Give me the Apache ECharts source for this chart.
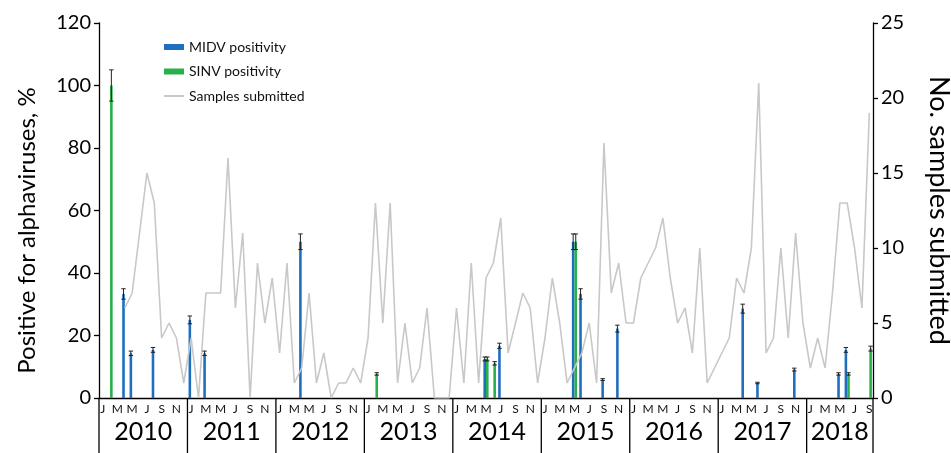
<!DOCTYPE html>
<html>
<head>
<meta charset="utf-8">
<title>Alphavirus positivity and samples submitted, 2010–2018</title>
<script src="https://cdn.jsdelivr.net/npm/echarts@6/dist/echarts.min.js"></script>
<style>
  html, body { margin: 0; padding: 0; background: #fff; }
  #chart { width: 951px; height: 453px; }
</style>
</head>
<body>
<div id="chart"></div>
<script>
// ---- data -------------------------------------------------------------
const years = ['2010', '2011', '2012', '2013', '2014', '2015', '2016', '2017', '2018'];
const monthsInYear = [12, 12, 12, 12, 12, 12, 12, 12, 9];
const monthLetters = ['J', 'F', 'M', 'A', 'M', 'J', 'J', 'A', 'S', 'O', 'N', 'D'];

// Percentage of positive samples per month (only months with positives)
const midvPositivity = [
  ['2010-04', 33.3], ['2010-05', 14.3], ['2010-08', 15.4],
  ['2011-01', 25.0], ['2011-03', 14.3],
  ['2012-04', 50.0],
  ['2014-05', 12.5], ['2014-07', 16.7],
  ['2015-05', 50.0], ['2015-06', 33.3], ['2015-09', 5.9], ['2015-11', 22.2],
  ['2017-04', 28.6], ['2017-06', 4.8], ['2017-11', 9.1],
  ['2018-05', 7.7], ['2018-06', 15.4]
];
const sinvPositivity = [
  ['2010-02', 100.0],
  ['2013-02', 7.7],
  ['2014-05', 12.5], ['2014-06', 11.1],
  ['2015-05', 50.0],
  ['2018-06', 7.7], ['2018-09', 15.8]
];

// Number of samples submitted each month, Jan 2010 – Sep 2018
const samplesSubmitted = [
  null, null, null, 6, 7, 11, 15, 13, 4, 5, 4, 1,      // 2010
  4, 0, 7, 7, 7, 16, 6, 11, 0, 9, 5, 8,                 // 2011
  3, 9, 1, 2, 7, 1, 3, 0, 1, 1, 2, 1,                   // 2012
  4, 13, 5, 13, 1, 5, 1, 2, 6, 0, 0, 0,                 // 2013
  6, 1, 9, 1, 8, 9, 12, 3, 5, 7, 6, 1,                  // 2014
  4, 8, 5, 1, 2, 3, 5, 1, 17, 7, 9, 5,                  // 2015
  5, 8, 9, 10, 12, 8, 5, 6, 3, 10, 1, 2,                // 2016
  3, 4, 8, 7, 10, 21, 3, 4, 10, 4, 11, 5,               // 2017
  2, 4, 2, 7, 13, 13, 10, 6, 19                         // 2018
];

// Error bars are a fixed percentage of each bar's value
const ERROR_BAR_PERCENT = 5;

const leftTicks = { min: 0, max: 120, interval: 20 };
const rightTicks = { min: 0, max: 25, interval: 5 };

// ---- derived tables ---------------------------------------------------
const categories = [];
years.forEach((y, yi) => {
  for (let m = 0; m < monthsInYear[yi]; m++) {
    categories.push(y + '-' + String(m + 1).padStart(2, '0'));
  }
});
const toSeries = pairs => {
  const lookup = Object.fromEntries(pairs);
  return categories.map(c => (c in lookup ? lookup[c] : null));
};
const midvData = toSeries(midvPositivity);
const sinvData = toSeries(sinvPositivity);
const errorPoints = pairs => pairs.map(([c, v]) => [categories.indexOf(c), v]);

const yearSpans = [];
let startIdx = 0;
years.forEach((y, yi) => {
  yearSpans.push([startIdx, startIdx + monthsInYear[yi]]);
  startIdx += monthsInYear[yi];
});

// ---- styling ----------------------------------------------------------
const FONT = 'Lato';
const BLUE = '#1f6fc1';
const GREEN = '#27b04b';
const GREY = '#c8c8c8';
const BAR_WIDTH = 2.6;

function errorBarRenderer(offsetSign) {
  return function (params, api) {
    const idx = api.value(0);
    const v = api.value(1);
    const e = v * ERROR_BAR_PERCENT / 100;
    const top = api.coord([idx, v + e]);
    const bot = api.coord([idx, v - e]);
    const x = top[0] + offsetSign * BAR_WIDTH / 2;
    const cap = 2.2;
    const style = { stroke: '#222', lineWidth: 1 };
    return {
      type: 'group',
      children: [
        { type: 'line', shape: { x1: x, y1: top[1], x2: x, y2: bot[1] }, style },
        { type: 'line', shape: { x1: x - cap, y1: top[1], x2: x + cap, y2: top[1] }, style },
        { type: 'line', shape: { x1: x - cap, y1: bot[1], x2: x + cap, y2: bot[1] }, style }
      ]
    };
  };
}

function yearRenderer(params, api) {
  const i = params.dataIndex;
  const span = yearSpans[i];
  const p0 = api.coord([span[0], 0]);
  const p1 = api.coord([span[1], 0]);
  const base = p0[1];
  const depth = 60;
  const style = { stroke: '#000', lineWidth: 1.3 };
  const children = [
    { type: 'line', shape: { x1: p0[0], y1: base, x2: p0[0], y2: base + depth }, style },
    {
      type: 'text',
      x: (p0[0] + p1[0]) / 2,
      y: base + 34,
      style: {
        text: years[i], fill: '#000', font: '25px ' + FONT,
        align: 'center', verticalAlign: 'middle'
      }
    }
  ];
  if (i === yearSpans.length - 1) {
    children.push({ type: 'line', shape: { x1: p1[0], y1: base, x2: p1[0], y2: base + depth }, style });
  }
  return { type: 'group', children };
}

// ---- chart ------------------------------------------------------------
const chart = echarts.init(document.getElementById('chart'), null, { renderer: 'canvas' });

chart.setOption({
  animation: false,
  textStyle: { fontFamily: FONT },
  grid: { left: 99, right: 78, top: 23, bottom: 55, outerBoundsMode: 'none', containLabel: false },
  legend: {
    orient: 'vertical',
    left: 158,
    top: 35,
    itemWidth: 20,
    itemHeight: 6,
    itemGap: 10.5,
    textStyle: { fontSize: 14, color: '#111', fontFamily: FONT },
    data: [
      { name: 'MIDV positivity', icon: 'rect' },
      { name: 'SINV positivity', icon: 'rect' },
      { name: 'Samples submitted', itemStyle: { opacity: 0 } }
    ]
  },
  xAxis: [
    {
      type: 'category',
      data: categories,
      boundaryGap: true,
      axisLine: { lineStyle: { color: '#000', width: 1.3 } },
      axisTick: { show: false },
      axisLabel: {
        interval: 1,
        margin: 5,
        fontSize: 12,
        color: '#111',
        formatter: v => monthLetters[parseInt(v.slice(5), 10) - 1]
      }
    },
    {
      type: 'value',
      min: 0,
      max: categories.length,
      show: false
    }
  ],
  yAxis: [
    {
      type: 'value',
      min: leftTicks.min,
      max: leftTicks.max,
      interval: leftTicks.interval,
      name: 'Positive for alphaviruses, %',
      nameLocation: 'middle',
      nameGap: 60,
      nameRotate: 90,
      nameTextStyle: { fontSize: 24, color: '#000', fontFamily: FONT, padding: [0, 40, 0, 0] },
      axisLine: { show: true, lineStyle: { color: '#000', width: 1.3 } },
      axisTick: { show: true, length: 5, lineStyle: { color: '#000', width: 1.3 } },
      axisLabel: { fontSize: 20, color: '#000', margin: 8 },
      splitLine: { show: false }
    },
    {
      type: 'value',
      position: 'right',
      min: rightTicks.min,
      max: rightTicks.max,
      interval: rightTicks.interval,
      name: 'No. samples submitted',
      nameLocation: 'middle',
      nameGap: 52,
      nameRotate: -90,
      nameTextStyle: { fontSize: 27, color: '#000', fontFamily: FONT },
      axisLine: { show: true, lineStyle: { color: '#000', width: 1.3 } },
      axisTick: { show: true, length: 5, lineStyle: { color: '#000', width: 1.3 } },
      axisLabel: { fontSize: 20, color: '#000', margin: 8 },
      splitLine: { show: false }
    }
  ],
  series: [
    {
      name: 'MIDV positivity',
      type: 'bar',
      data: midvData,
      barWidth: BAR_WIDTH,
      barGap: '0%',
      itemStyle: { color: BLUE },
      z: 2
    },
    {
      name: 'SINV positivity',
      type: 'bar',
      data: sinvData,
      barWidth: BAR_WIDTH,
      barGap: '0%',
      itemStyle: { color: GREEN },
      z: 2
    },
    {
      name: 'Samples submitted',
      type: 'line',
      yAxisIndex: 1,
      data: samplesSubmitted,
      symbol: 'none',
      lineStyle: { color: GREY, width: 1.6 },
      itemStyle: { color: GREY },
      z: 3
    },
    {
      type: 'custom',
      renderItem: errorBarRenderer(-1),
      data: errorPoints(midvPositivity),
      z: 4,
      silent: true
    },
    {
      type: 'custom',
      renderItem: errorBarRenderer(1),
      data: errorPoints(sinvPositivity),
      z: 4,
      silent: true
    },
    {
      type: 'custom',
      xAxisIndex: 1,
      yAxisIndex: 0,
      renderItem: yearRenderer,
      data: yearSpans,
      clip: false,
      silent: true
    }
  ]
});
</script>
</body>
</html>
